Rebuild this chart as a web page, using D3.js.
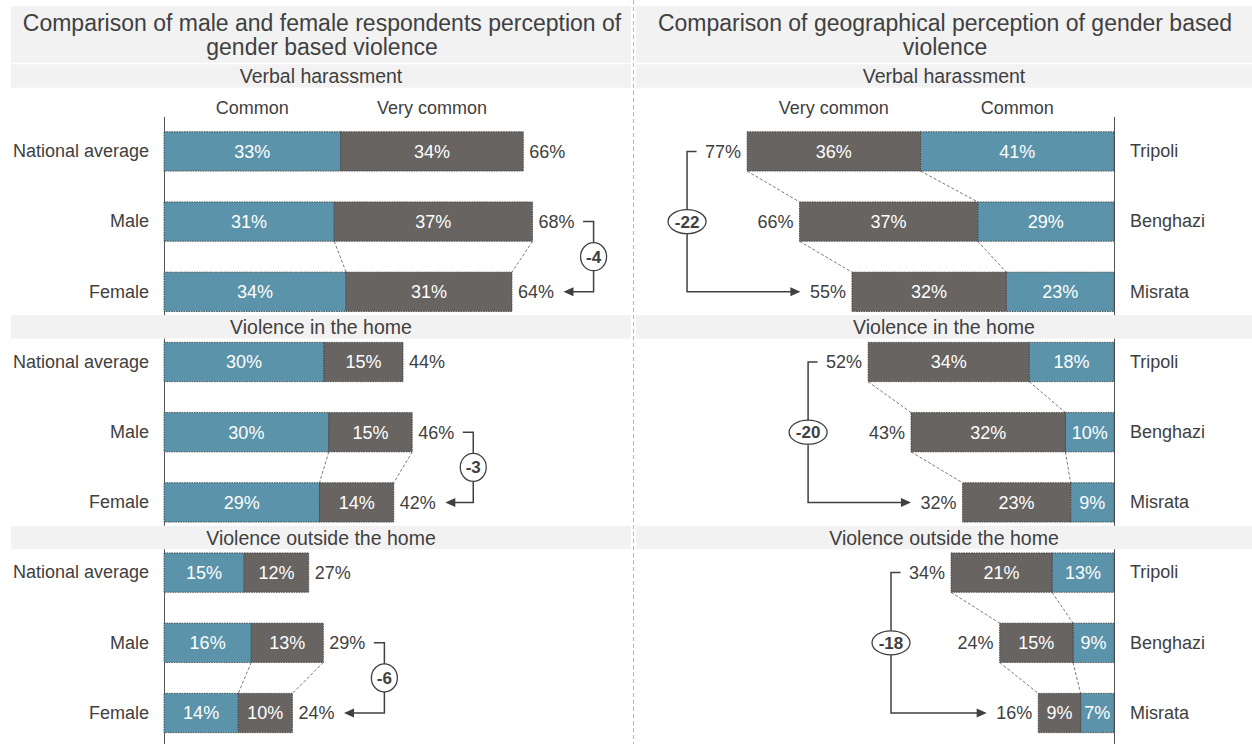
<!DOCTYPE html>
<html>
<head>
<meta charset="utf-8">
<script src="https://cdn.jsdelivr.net/npm/d3@7"></script>
<style>
  body { margin: 0; background: #fff; }
  text { font-family: "Liberation Sans", Arial, sans-serif; }
</style>
</head>
<body>
<svg class="chart"></svg>
<script>
// values (percent), one row per section
var sections = ["Verbal harassment", "Violence in the home", "Violence outside the home"];
var genderRows = ["National average", "Male", "Female"];
var cityRows = ["Tripoli", "Benghazi", "Misrata"];
var headerLabels = ["Common", "Very common"];

var genderCommon     = [[32.6, 31.4, 33.6], [29.5, 30.4, 28.7], [14.8, 16.1, 13.7]];
var genderVeryCommon = [[33.7, 36.6, 30.6], [14.6, 15.4, 13.7], [11.9, 13.3, 10.0]];
var cityCommon       = [[40.6, 28.6, 22.6], [17.8, 10.2, 9.1], [13.0, 8.6, 7.0]];
var cityVeryCommon   = [[36.4, 37.4, 32.4], [33.8, 32.4, 22.7], [21.2, 15.4, 8.9]];

var leftTitle = ["Comparison of male and female respondents perception of", "gender based violence"];
var rightTitle = ["Comparison of geographical perception of gender based", "violence"];

var width = 1252, height = 744;
var teal = "#5b94aa", grey = "#686462", ink = "#404040";

var chart = d3.select(".chart").attr("width", width).attr("height", height);

var y = d3.scaleBand().domain(d3.range(9)).range([116.3, 748.1])
  .paddingInner(0.44).paddingOuter(0.22);
var bw = y.bandwidth();
var xL = d3.scaleLinear().domain([0, 100]).range([164, 706]);
var xR = d3.scaleLinear().domain([0, 100]).range([1114, 637.5]);
var fmt = function(v) { return Math.round(v) + "%"; };

function rows(common, very) {
  return d3.range(9).map(function(i) {
    var s = Math.floor(i / 3), r = i % 3;
    return { i: i, s: s, r: r, c: common[s][r], v: very[s][r], t: common[s][r] + very[s][r] };
  });
}
var left = rows(genderCommon, genderVeryCommon);
var right = rows(cityCommon, cityVeryCommon);

// axes carry the row labels
var axL = chart.append("g").attr("transform", "translate(164,0)")
  .call(d3.axisLeft(y).tickSize(0).tickPadding(15).tickFormat(function(i) { return genderRows[i % 3]; }));
var axR = chart.append("g").attr("transform", "translate(1114,0)")
  .call(d3.axisRight(y).tickSize(0).tickPadding(16).tickFormat(function(i) { return cityRows[i % 3]; }));
[axL, axR].forEach(function(a) {
  a.select(".domain").attr("stroke", "#555").attr("stroke-width", 1);
  a.selectAll("text").attr("font-size", 18).attr("fill", ink)
    .attr("font-family", "Liberation Sans, Arial, sans-serif");
});

// separator
chart.append("line").attr("x1", 633.5).attr("x2", 633.5).attr("y1", 0).attr("y2", height)
  .attr("stroke", "#b5b5b5").attr("stroke-dasharray", "4,3");

// title bands
var panels = [{ x0: 11, x1: 631, title: leftTitle }, { x0: 636, x1: 1252, title: rightTitle }];
panels.forEach(function(p) {
  chart.append("rect").attr("x", p.x0).attr("y", 6).attr("width", p.x1 - p.x0).attr("height", 56.7)
    .attr("fill", "#f2f2f2");
  p.title.forEach(function(line, k) {
    chart.append("text").attr("x", (p.x0 + p.x1) / 2 + 1).attr("y", 31 + k * 23.5)
      .attr("text-anchor", "middle").attr("font-size", 23).attr("fill", ink).text(line);
  });
});

// section bands
var bandCenters = sections.map(function(d, s) {
  return s === 0 ? 76 : (y(3 * s - 1) + bw + y(3 * s)) / 2;
});
sections.forEach(function(name, s) {
  panels.forEach(function(p) {
    chart.append("rect").attr("x", p.x0).attr("y", bandCenters[s] - 11.7)
      .attr("width", p.x1 - p.x0).attr("height", 23.4).attr("fill", "#f2f2f2");
    chart.append("text").attr("x", (p.x0 + p.x1) / 2).attr("y", bandCenters[s] + 7)
      .attr("text-anchor", "middle").attr("font-size", 19.5).attr("fill", ink).text(name);
  });
});

// column headers over the first rows
var l0 = left[0], r0 = right[0];
[[headerLabels[0], (xL(0) + xL(l0.c)) / 2], [headerLabels[1], (xL(l0.c) + xL(l0.t)) / 2],
 [headerLabels[0], (xR(0) + xR(r0.c)) / 2], [headerLabels[1], (xR(r0.c) + xR(r0.t)) / 2]]
  .forEach(function(h) {
    chart.append("text").attr("x", h[1]).attr("y", 114).attr("text-anchor", "middle")
      .attr("font-size", 18).attr("fill", ink).text(h[0]);
  });

// connectors (dashed)
function connect(x, a, b) {
  [a.c, a.t].forEach(function(v, k) {
    var w = k === 0 ? b.c : b.t;
    chart.append("line").attr("x1", x(v)).attr("y1", y(a.i) + bw).attr("x2", x(w)).attr("y2", y(b.i))
      .attr("stroke", "#555").attr("stroke-width", 0.8).attr("stroke-dasharray", "3,2");
  });
}
sections.forEach(function(d, s) {
  connect(xL, left[3 * s + 1], left[3 * s + 2]);
  connect(xR, right[3 * s], right[3 * s + 1]);
  connect(xR, right[3 * s + 1], right[3 * s + 2]);
});

// bars
function drawBars(data, x, side) {
  var g = chart.append("g");
  var segs = [];
  data.forEach(function(d) {
    segs.push({ d: d, a: 0, b: d.c, col: teal, val: d.c });
    segs.push({ d: d, a: d.c, b: d.t, col: grey, val: d.v });
  });
  g.selectAll("rect").data(segs).join("rect")
    .attr("x", function(s) { return Math.min(x(s.a), x(s.b)); })
    .attr("y", function(s) { return y(s.d.i); })
    .attr("width", function(s) { return Math.abs(x(s.b) - x(s.a)); })
    .attr("height", bw)
    .attr("fill", function(s) { return s.col; })
    .attr("stroke", "#3a3a3a").attr("stroke-width", 0.8).attr("stroke-dasharray", "1.5,1");
  g.selectAll("text.in").data(segs).join("text").attr("class", "in")
    .attr("x", function(s) { return (x(s.a) + x(s.b)) / 2; })
    .attr("y", function(s) { return y(s.d.i) + bw / 2; })
    .attr("dy", "0.35em").attr("text-anchor", "middle").attr("font-size", 18).attr("fill", "#fff")
    .text(function(s) { return fmt(s.val); });
  return g.selectAll("text.tot").data(data).join("text").attr("class", "tot")
    .attr("x", function(d) { return x(d.t) + side * 6; })
    .attr("y", function(d) { return y(d.i) + bw / 2; })
    .attr("dy", "0.35em").attr("text-anchor", side > 0 ? "start" : "end")
    .attr("font-size", 18).attr("fill", ink)
    .text(function(d) { return fmt(d.t); })
    .each(function(d) { d.len = this.getComputedTextLength(); });
}
drawBars(left, xL, 1);
drawBars(right, xR, -1);

// difference brackets
function bracket(top, bot, x, side, rx, ry) {
  var yt = y(top.i) + bw / 2, yb = y(bot.i) + bw / 2;
  var edge = function(d) { return x(d.t) + side * (6 + d.len); };
  var bx = side > 0 ? Math.max(edge(top), edge(bot)) + 19 : Math.min(edge(top), edge(bot)) - 18;
  var tip = edge(bot) + side * 9.5;
  chart.append("path")
    .attr("d", "M" + (edge(top) + side * 8.5) + "," + yt + "H" + bx + "V" + yb + "H" + (tip + side * 9))
    .attr("fill", "none").attr("stroke", ink).attr("stroke-width", 1.5);
  chart.append("path")
    .attr("d", "M" + tip + "," + yb + "L" + (tip + side * 10) + "," + (yb - 4.5) + "L" + (tip + side * 10) + "," + (yb + 4.5) + "Z")
    .attr("fill", ink);
  var cy = (yt + yb) / 2;
  chart.append("ellipse").attr("cx", bx).attr("cy", cy).attr("rx", rx).attr("ry", ry)
    .attr("fill", "#fff").attr("stroke", ink).attr("stroke-width", 1.3);
  chart.append("text").attr("x", bx).attr("y", cy).attr("dy", "0.35em").attr("text-anchor", "middle")
    .attr("font-size", 17).attr("font-weight", "bold").attr("fill", ink)
    .text(Math.round(bot.t - top.t));
}
sections.forEach(function(d, s) {
  bracket(left[3 * s + 1], left[3 * s + 2], xL, 1, 13, 14);
  bracket(right[3 * s], right[3 * s + 2], xR, -1, 19, 12);
});
</script>
</body>
</html>
